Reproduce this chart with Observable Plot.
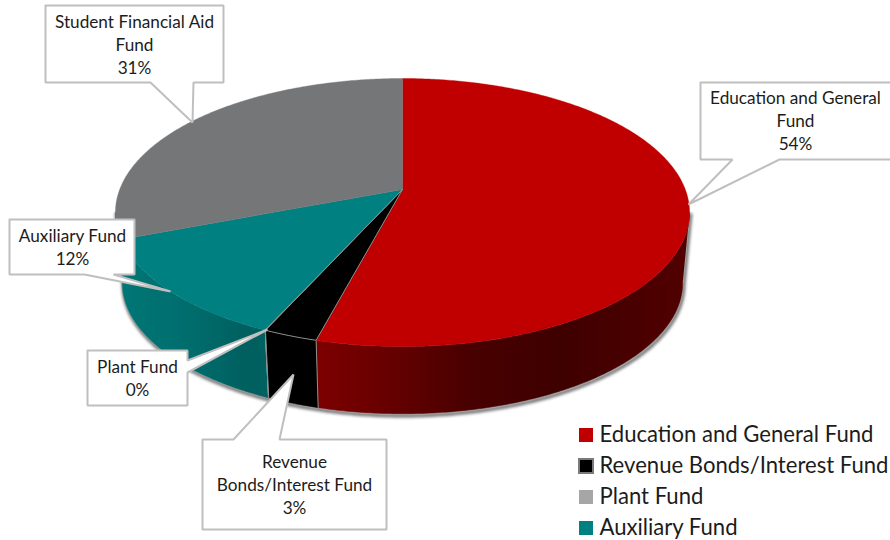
<!DOCTYPE html>
<html><head><meta charset="utf-8">
<style>html,body{margin:0;padding:0;background:#fff;overflow:hidden}svg{display:block}</style>
<script src="https://cdn.jsdelivr.net/npm/d3@7"></script>
<script src="https://cdn.jsdelivr.net/npm/@observablehq/plot@0.6"></script>
</head><body><div id="chart"></div>
<script>
// ---- data ----
const funds = ["Education and General Fund", "Revenue Bonds/Interest Fund", "Plant Fund", "Auxiliary Fund", "Student Financial Aid Fund"];
const shares = [54.1, 2.6, 0.04, 12.4, 30.86];
const fundColors = ["#C00000", "#000000", "#A6A6A6", "#008080", "#757678"];
const legendFunds = funds.slice(0, 4);
const labelLines = [["Education and General", "Fund"], ["Revenue", "Bonds/Interest Fund"], ["Plant Fund"], ["Auxiliary Fund"], ["Student Financial Aid", "Fund"]];

// ---- layout ----
const W = 890, H = 540;
const font = "Lato, 'Open Sans', sans-serif";
const persp = {cx: 402, apexY: 189, baseY: 260, a: 282.8, b: 130.05, k: -0.1716, baseScale: 0.976};
const silhouette = [Math.PI * 100 / 180, Math.PI * 260 / 180]; // where the wall turns out of sight
const point = (t, base) => {
  const u = Math.sin(t), v = -Math.cos(t), d = 1 + persp.k * v, s = base ? persp.baseScale : 1;
  return [persp.cx + s * persp.a * u / d, (base ? persp.baseY : persp.apexY) + s * persp.b * v / d];
};
// callout outlines are listed clockwise; "tail" is spliced into the edge named by "edge"
const boxes = [
  {x1: 700, y1: 82, x2: 893, y2: 159, edge: "bottom", tail: [[779, 159], [688, 204], [732, 159]], tx: 795, ty: 119},
  {x1: 202, y1: 439, x2: 386, y2: 529, edge: "top", tail: [[233, 439], [293, 374], [279, 439]], tx: 294, ty: 483},
  {x1: 87, y1: 350, x2: 187, y2: 405, edge: "right", tail: [[187, 360], [267, 329], [187, 372]], tx: 137, ty: 376.5},
  {x1: 9, y1: 219, x2: 134, y2: 274, edge: "bottom", tail: [[113, 274], [170, 291], [84, 274]], tx: 72, ty: 245.5},
  {x1: 45, y1: 5, x2: 223, y2: 82, edge: "bottom", tail: [[193, 82], [192, 122], [150, 82]], tx: 134, ty: 43}
];
const legendY = [428, 459, 490, 521];

// ---- geometry from the values ----
const arcs = d3.pie().sort(null).value(d => d)(shares);
const arcPts = (a0, a1, base) => {
  const n = Math.max(2, Math.ceil((a1 - a0) / 0.01));
  return d3.range(n + 1).map(i => point(a0 + (a1 - a0) * i / n, base));
};
const topRows = arcs.flatMap((a, i) => {
  const ap = [persp.cx, persp.apexY];
  return [ap, ...arcPts(a.startAngle, a.endAngle, false), ap].map(p => ({fund: funds[i], x: p[0], y: p[1]}));
});

// wall shading: horizontal gradients in pixel space
const wallGradients = [
  {id: "wall0", index: 0, x1: 320, x2: 690, stops: [[0, "#7c0000"], [0.22, "#620000"], [0.41, "#480000"], [0.65, "#3f0000"], [1, "#520000"]]},
  {id: "wall3", index: 3, toSilhouette: true, x1: 120, x2: 270, stops: [[0, "#007676"], [0.45, "#006d6d"], [0.85, "#005f5f"], [1, "#006262"]]},
  {id: "wall1", index: 1, x1: 260, x2: 330, stops: [[0, "#000000"], [1, "#000000"]]}
];
const gradientDefs = () => {
  const g = d3.create("svg:g");
  const defs = g.append("defs");
  for (const w of wallGradients) {
    const lg = defs.append("linearGradient").attr("id", w.id).attr("gradientUnits", "userSpaceOnUse")
      .attr("x1", w.x1).attr("x2", w.x2).attr("y1", 0).attr("y2", 0);
    for (const [o, c] of w.stops) lg.append("stop").attr("offset", o).attr("stop-color", c);
  }
  return g.node();
};
const wallRows = w => {
  const a = arcs[w.index];
  const a0 = Math.max(a.startAngle, silhouette[0]);
  const a1 = w.toSilhouette ? silhouette[1] : Math.min(a.endAngle, silhouette[1]);
  return [...arcPts(a0, a1, false), ...arcPts(a0, a1, true).reverse()].map(p => ({x: p[0], y: p[1]}));
};
const rimRows = [point(silhouette[0], false), ...arcPts(silhouette[0], silhouette[1], true), point(silhouette[1], false)].map(p => ({x: p[0], y: p[1]}));
const seams = [arcs[0].endAngle, arcs[1].endAngle].flatMap((t, i) => [point(t, false), point(t, true)].map(p => ({id: i, x: p[0], y: p[1]})));

const calloutRows = boxes.flatMap((b, i) => {
  const tl = [b.x1, b.y1], tr = [b.x2, b.y1], br = [b.x2, b.y2], bl = [b.x1, b.y2];
  const t = b.tail;
  const pts = b.edge === "top" ? [tl, ...t, tr, br, bl, tl]
    : b.edge === "right" ? [tl, tr, ...t, br, bl, tl]
    : [tl, tr, br, ...t, bl, tl];
  return pts.map(p => ({id: i, x: p[0], y: p[1]}));
});
const labelRows = boxes.map((b, i) => ({
  x: b.tx, y: b.ty,
  text: [...labelLines[i], d3.format(".0f")(shares[i]) + "%"].join("\n")
}));
const legendRows = legendFunds.map((f, i) => ({fund: f, y: legendY[i]}));

const chart = Plot.plot({
  width: W, height: H, margin: 0,
  x: {domain: [0, W], range: [0, W], axis: null},
  y: {domain: [0, H], range: [0, H], axis: null},
  color: {domain: funds, range: fundColors},
  marks: [
    gradientDefs,
    // soft shadow and rim under the base
    Plot.line(rimRows, {x: d => d.x + 1, y: d => d.y + 2, stroke: "#6f6f6f", strokeWidth: 3.5, imageFilter: "blur(1.5px)"}),
    Plot.line(rimRows, {x: "x", y: "y", stroke: "#a0a0a0", strokeWidth: 1.5}),
    // side walls
    ...wallGradients.map(w => Plot.line(wallRows(w), {x: "x", y: "y", fill: `url(#${w.id})`, stroke: `url(#${w.id})`, strokeWidth: 0.5})),
    Plot.line(seams, {x: "x", y: "y", z: "id", stroke: "#8f8f8f", strokeWidth: 1}),
    // top faces
    Plot.line(topRows, {x: "x", y: "y", z: "fund", fill: "fund", stroke: "fund", strokeWidth: 0.4}),
    Plot.line(topRows.filter(d => d.fund === funds[1]), {x: "x", y: "y", stroke: "#8f8f8f", strokeWidth: 1}),
    // callouts
    Plot.line(calloutRows, {x: "x", y: "y", z: "id", fill: "#fff", stroke: "#bfbfbf", strokeWidth: 2, strokeLinejoin: "miter"}),
    Plot.text(labelRows, {x: "x", y: "y", text: "text", fontSize: 17.2, lineHeight: 1.34, textAnchor: "middle", fill: "#1c1c1c", fontFamily: font}),
    // legend
    Plot.rect(legendRows, {x1: () => 579, x2: () => 593, y1: "y", y2: d => d.y + 14, fill: "fund",
      stroke: {value: d => d.fund === funds[1] ? "#7a7a7a" : "none", scale: null}, strokeWidth: 2}),
    Plot.text(legendRows, {x: () => 599, y: d => d.y + 6, text: "fund", fontSize: 22.1, textAnchor: "start", fill: "#1c1c1c", fontFamily: font})
  ]
});
document.getElementById("chart").append(chart);
</script>
</body></html>
